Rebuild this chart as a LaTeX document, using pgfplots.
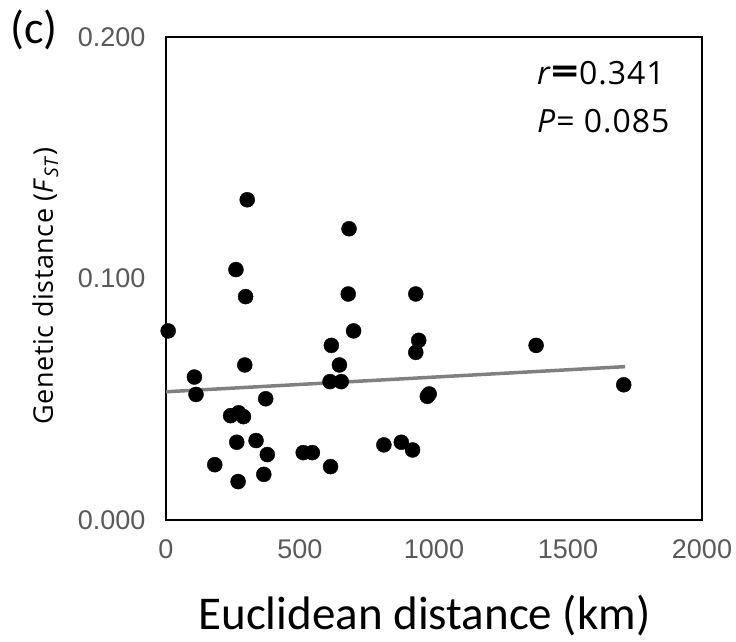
\documentclass[border=0pt]{standalone}
\usepackage{fontspec}
\usepackage{graphicx}
\setmainfont{Liberation Sans}
\newfontfamily\calibri{Carlito}
\newfontfamily\osans[LetterSpace=3]{Open Sans}
\newfontfamily\ylab[LetterSpace=2]{Open Sans}
\usepackage{pgfplots}
\pgfplotsset{compat=1.18}
\definecolor{tickgray}{RGB}{89,89,89}
\definecolor{trend}{RGB}{128,128,128}
\pgfplotstableread{
x y
8 0.0783
303 0.1326
683 0.1206
261 0.1037
297 0.0925
680 0.0936
932 0.0936
700 0.0783
617 0.0723
943 0.0744
932 0.0694
647 0.0642
294 0.0642
106 0.0592
112 0.0520
612 0.0573
654 0.0573
975 0.0512
982 0.0522
372 0.0502
241 0.0432
271 0.0444
289 0.0428
264 0.0322
336 0.0329
378 0.0271
182 0.0229
269 0.0159
365 0.0189
512 0.0279
546 0.0279
614 0.0221
813 0.0311
878 0.0322
920 0.0290
1381 0.0723
1708 0.0560
}\pts
\begin{document}
\begin{tikzpicture}
\useasboundingbox (-166pt,-121pt) rectangle (570pt,520pt);
\begin{axis}[at={(0pt,0pt)}, anchor=south west, scale only axis,
  width=536pt, height=483pt,
  xmin=0, xmax=2000, ymin=0, ymax=0.2,
  xtick={0,500,1000,1500,2000}, ytick={0,0.1,0.2},
  major tick length=0pt,
  axis line style={line width=1.8pt},
  scaled y ticks=false, scaled x ticks=false,
  /pgf/number format/assume math mode=true,
  tick label style={font=\fontsize{27}{32}\selectfont, text=tickgray},
  y tick label style={/pgf/number format/fixed, /pgf/number format/fixed zerofill, /pgf/number format/precision=3, xshift=-17pt},
  x tick label style={/pgf/number format/1000 sep={}, yshift=-16pt},
  clip=false]
\addplot[only marks, mark=*, mark size=7.5pt, mark options={fill=black, draw=black}] table[x=x, y=y] {\pts};
\addplot[trend, line width=3.5pt] coordinates {(0,0.0531) (1713,0.0635)};
\end{axis}
\node[anchor=base west, inner sep=0pt, font=\calibri\fontsize{46}{52}\selectfont] at (-156pt,476pt) {(c)};
\node[anchor=base west, inner sep=0pt, font=\osans\fontsize{32}{36}\selectfont] at (371pt,435pt) {\textit{r}\scalebox{1.5}[1.15]{\bfseries =}0.341};
\node[anchor=base west, inner sep=0pt, font=\osans\fontsize{32}{36}\selectfont] at (371pt,388pt) {\textit{P}= 0.085};
\node[anchor=base, inner sep=0pt, font=\calibri\fontsize{47}{52}\selectfont] at (258.5pt,-109pt) {Euclidean distance (km)};
\node[rotate=90, anchor=base, inner sep=0pt, font=\ylab\fontsize{27}{32}\selectfont] at (-113pt,234pt) {Genetic distance (\textit{F}\textsubscript{\textit{ST}})};
\end{tikzpicture}
\end{document}
